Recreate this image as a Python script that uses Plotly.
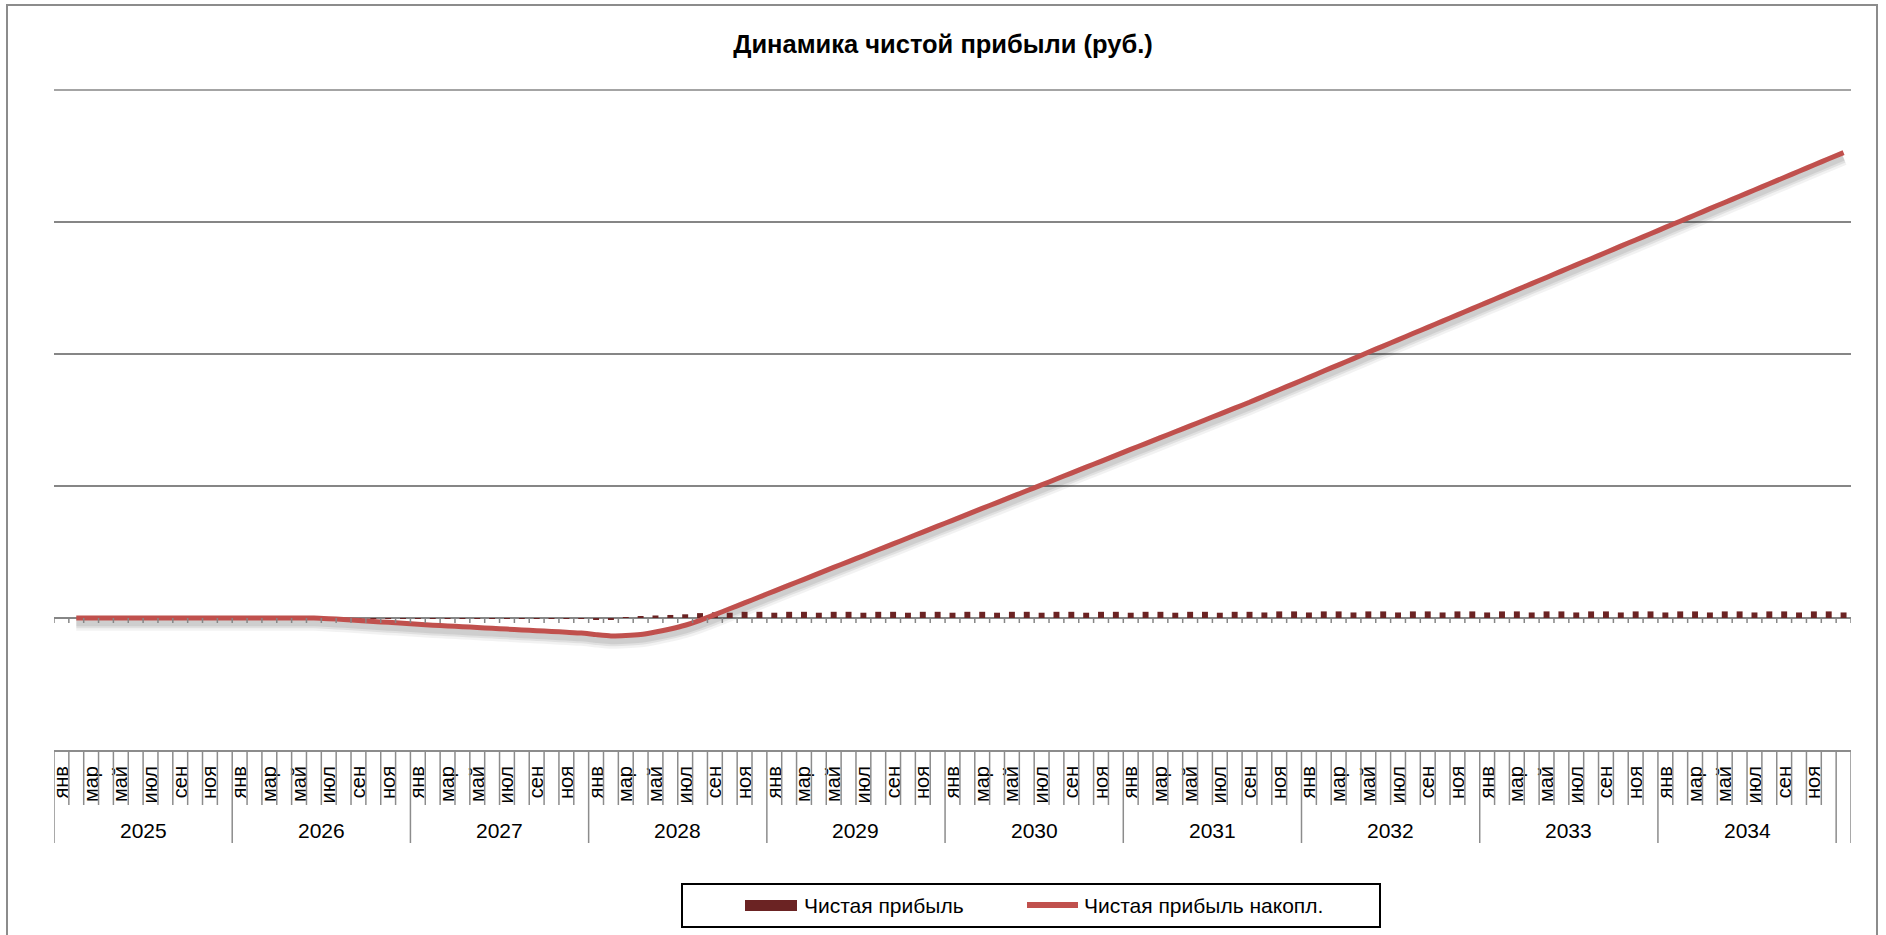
import plotly.graph_objects as go

# --- data (млн руб.; the picture shows no y-values, so scale is arbitrary) ---
MONTHS = ["янв", "фев", "мар", "апр", "май", "июн",
          "июл", "авг", "сен", "окт", "ноя", "дек"]
MONTH_TICKS = ["янв", "мар", "май", "июл", "сен", "ноя"]
YEARS = [2025, 2026, 2027, 2028, 2029, 2030, 2031, 2032, 2033, 2034]

# monthly net profit, Jan 2025 .. Jan 2035 (121 months)
NET_PROFIT = [
    None, 0, 0, 0, 0, 0, 0, 0, 0, 0, 0, 0,
    0, 0, 0, 0, 0, 0, -0.05, -0.07, -0.07, -0.07, -0.07, -0.07,
    -0.07, -0.07, -0.06, -0.06, -0.06, -0.06, -0.06, -0.06, -0.06, -0.06, -0.06, -0.06,
    -0.12, -0.10, 0.03, 0.08, 0.19, 0.23, 0.28, 0.37, 0.43, 0.40, 0.47, 0.47,
    0.40, 0.47, 0.47, 0.40, 0.47, 0.47, 0.40, 0.47, 0.47, 0.40, 0.47, 0.47,
    0.40, 0.47, 0.47, 0.40, 0.47, 0.47, 0.40, 0.47, 0.47, 0.40, 0.47, 0.47,
    0.40, 0.47, 0.47, 0.40, 0.47, 0.47, 0.40, 0.47, 0.47, 0.42, 0.50, 0.50,
    0.42, 0.50, 0.50, 0.42, 0.50, 0.50, 0.42, 0.50, 0.50, 0.42, 0.50, 0.50,
    0.42, 0.50, 0.50, 0.42, 0.50, 0.50, 0.42, 0.50, 0.50, 0.42, 0.50, 0.50,
    0.42, 0.50, 0.50, 0.42, 0.50, 0.50, 0.42, 0.50, 0.50, 0.42, 0.50, 0.50,
    0.42,
]

# cumulative net profit
NET_PROFIT_CUM = [
    None, 0, 0, 0, 0, 0, 0, 0, 0, 0, 0, 0,
    0, 0, 0, 0, 0, 0, -0.05, -0.12, -0.19, -0.26, -0.33, -0.40,
    -0.47, -0.54, -0.60, -0.66, -0.72, -0.78, -0.84, -0.90, -0.96, -1.02, -1.08, -1.14,
    -1.26, -1.36, -1.33, -1.25, -1.06, -0.83, -0.55, -0.18, 0.25, 0.70, 1.14, 1.59,
    2.04, 2.49, 2.93, 3.38, 3.83, 4.27, 4.72, 5.17, 5.61, 6.06, 6.51, 6.96,
    7.40, 7.85, 8.30, 8.74, 9.19, 9.64, 10.08, 10.53, 10.98, 11.43, 11.87, 12.32,
    12.77, 13.21, 13.66, 14.11, 14.55, 15.00, 15.45, 15.90, 16.34, 16.82, 17.29, 17.76,
    18.23, 18.71, 19.18, 19.65, 20.13, 20.60, 21.07, 21.55, 22.02, 22.49, 22.96, 23.44,
    23.91, 24.38, 24.86, 25.33, 25.80, 26.28, 26.75, 27.22, 27.69, 28.17, 28.64, 29.11,
    29.59, 30.06, 30.53, 31.01, 31.48, 31.95, 32.42, 32.90, 33.37, 33.84, 34.32, 34.79,
    35.26,
]

# categories: every month of the ten years plus one trailing (unlabelled) month
CATS = [f"{m} {y}" for y in YEARS for m in MONTHS] + [f"янв {YEARS[-1] + 1}"]
TICKVALS = [f"{m} {y}" for y in YEARS for m in MONTH_TICKS]
TICKTEXT = [m for y in YEARS for m in MONTH_TICKS]

BAR, LINE, GRID, BORDER = "#6b2323", "#c0504d", "#868686", "#8c8c8c"
FONT = "Liberation Sans, Arial, sans-serif"

W, H = 1886, 935
L, R, T, B = 54, 35, 90, 185
PW, PH = W - L - R, H - T - B
Y_RANGE = [-10, 40]
SHADOW_SHIFT = 0.4  # data units the shadow sits below the line (~5 px)


def px_x(px):
    return (px - L) / PW


def px_y(py):
    return (H - B - py) / PH


fig = go.Figure()

# soft drop shadow under the cumulative line (drawn on a shifted twin axis)
for w, a in [(15, 0.05), (10, 0.07), (6, 0.08)]:
    fig.add_trace(go.Scatter(
        x=CATS, y=NET_PROFIT_CUM, mode="lines", yaxis="y", showlegend=False,
        line=dict(color=f"rgba(0,0,0,{a})", width=w, shape="spline", smoothing=0.5),
        hoverinfo="skip"))

fig.add_trace(go.Bar(
    x=CATS, y=NET_PROFIT, name="Чистая прибыль", yaxis="y2",
    marker=dict(color=BAR, line=dict(width=0)), showlegend=False))
fig.add_trace(go.Scatter(
    x=CATS, y=NET_PROFIT_CUM, name="Чистая прибыль накопл.", yaxis="y2",
    mode="lines", line=dict(color=LINE, width=5, shape="spline", smoothing=0.5),
    showlegend=False))

shapes = []
n = len(CATS)
for k in range(n + 1):
    b = k - 0.5
    # tick marks hanging under the zero line
    shapes.append(dict(type="line", xref="x", yref="y2", ysizemode="pixel",
                       yanchor=0, x0=b, x1=b, y0=0, y1=-5,
                       line=dict(color=GRID, width=1.5)))
    # cell separators of the two-level category table
    depth = -93 if (k % 12 == 0 or k == n) else -55
    shapes.append(dict(type="line", xref="x", yref="paper", ysizemode="pixel",
                       yanchor=0, x0=b, x1=b, y0=0, y1=depth,
                       line=dict(color=BORDER, width=1.5)))

# top gridline (sits on the plot edge, so plotly skips it)
shapes.append(dict(type="line", xref="paper", yref="paper", x0=0, x1=1,
                   y0=1, y1=1, line=dict(color=GRID, width=1.5)))
# chart frame
shapes.append(dict(type="rect", xref="paper", yref="paper",
                   x0=px_x(7), x1=px_x(1877), y0=px_y(945), y1=px_y(5),
                   line=dict(color=BORDER, width=2)))
# legend box + swatches
shapes.append(dict(type="rect", xref="paper", yref="paper",
                   x0=px_x(682), x1=px_x(1380), y0=px_y(927), y1=px_y(884),
                   line=dict(color="black", width=2)))
shapes.append(dict(type="rect", xref="paper", yref="paper",
                   x0=px_x(745), x1=px_x(797), y0=px_y(911), y1=px_y(900),
                   fillcolor=BAR, line=dict(width=0)))
shapes.append(dict(type="line", xref="paper", yref="paper",
                   x0=px_x(1027), x1=px_x(1078), y0=px_y(905), y1=px_y(905),
                   line=dict(color=LINE, width=6)))

annotations = []
for i, y in enumerate(YEARS):
    annotations.append(dict(x=(12 * i + 6) / n, y=0, xref="paper", yref="paper",
                            xanchor="center", yanchor="middle", yshift=-80,
                            text=str(y), showarrow=False,
                            font=dict(size=21, color="black")))
for px, label in [(802, "Чистая прибыль"), (1082, "Чистая прибыль накопл.")]:
    annotations.append(dict(x=px_x(px), y=px_y(905), xref="paper", yref="paper",
                            xanchor="left", yanchor="middle", text=label,
                            showarrow=False, font=dict(size=21, color="black")))

fig.update_layout(
    width=W, height=H, margin=dict(l=L, r=R, t=T, b=B),
    paper_bgcolor="white", plot_bgcolor="white",
    font=dict(family=FONT, color="black"),
    title=dict(text="<b>Динамика чистой прибыли (руб.)</b>", x=0.5, xanchor="center",
               y=1 - 44 / H, yanchor="middle", yref="container",
               font=dict(size=25.5, color="black")),
    bargap=0.6, showlegend=False,
    xaxis=dict(type="category", categoryorder="array", categoryarray=CATS,
               range=[-0.5, n - 0.5], tickmode="array", tickvals=TICKVALS,
               ticktext=TICKTEXT, tickangle=-90, ticks="", ticklabelstandoff=6,
               tickfont=dict(size=20, color="black"), showgrid=False,
               showline=True, linecolor=BORDER, linewidth=2, zeroline=False),
    yaxis=dict(range=[Y_RANGE[0] + SHADOW_SHIFT, Y_RANGE[1] + SHADOW_SHIFT],
               visible=False, showgrid=False, zeroline=False, fixedrange=True),
    yaxis2=dict(range=Y_RANGE, overlaying="y", side="left", dtick=10,
                showgrid=True, gridcolor=GRID, gridwidth=1.5,
                zeroline=True, zerolinecolor=GRID, zerolinewidth=2,
                showticklabels=False, ticks="", showline=False),
    shapes=shapes, annotations=annotations,
)

fig.write_html("out.html", config={"displayModeBar": False},
               post_script="document.body.style.margin='0';"
                           "document.body.style.overflow='hidden';")
